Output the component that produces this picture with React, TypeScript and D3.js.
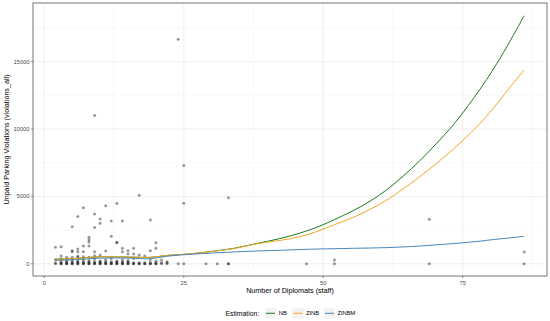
import React from "react";
import * as d3 from "d3";

// ---- data ----
const curveX = [2, 5, 10, 15, 19, 22, 26, 30, 34, 38, 42, 46, 49.4, 52, 55.4, 58.4, 61.4, 64.3, 67.3, 70, 73.3, 76, 78.1, 80.5, 82.9, 86];
const nbValues = [350, 380, 520, 500, 480, 620, 730, 920, 1150, 1500, 1850, 2300, 2800, 3280, 3950, 4650, 5500, 6500, 7650, 8800, 10300, 11750, 12950, 14450, 16100, 18400];
const zinbValues = [340, 370, 520, 500, 480, 620, 730, 910, 1130, 1480, 1720, 2030, 2480, 2900, 3450, 4050, 4730, 5550, 6460, 7350, 8500, 9550, 10420, 11550, 12800, 14380];
const zinbmValues = [250, 290, 420, 420, 380, 560, 700, 800, 880, 950, 1000, 1060, 1100, 1120, 1150, 1170, 1200, 1250, 1320, 1400, 1500, 1600, 1680, 1800, 1900, 2040];

const pointX = [
  2, 3, 4, 5, 6, 7, 8, 9, 10, 11, 12, 13, 14, 15, 16, 17, 18, 19, 20, 21, 22, 24, 25, 29, 31, 33, 33, 47, 52, 69, 86,
  2, 3, 4, 5, 6, 7, 8, 9, 10, 11, 12, 13, 14, 15, 16, 17, 18, 19, 20, 21, 22,
  3, 4, 5, 6, 7, 8, 9, 10, 11, 12, 13, 14, 15, 16, 17, 18, 19, 20,
  3, 4, 5, 6, 7, 8, 9, 10, 11, 12, 13, 14, 15,
  2, 3, 3, 4, 4, 5, 5, 6, 6, 6, 7, 7, 8, 8, 9, 9, 10, 10, 11, 12, 13, 14, 15, 16, 17, 18, 19, 20, 21, 22, 52,
  2, 3, 5, 5, 6, 6, 7, 7, 8, 9, 11, 13, 13, 14, 14, 15, 15, 16, 16, 19, 20, 20, 86, 8, 8, 8, 12, 5, 9, 10, 10, 12, 14, 19, 69, 6, 9, 7, 11, 13, 25, 33, 17, 25, 9, 24,
];
const pointY = [
  0, 0, 0, 0, 0, 0, 0, 0, 0, 0, 0, 0, 0, 0, 0, 0, 0, 0, 0, 0, 0, 0, 0, 0, 0, 0, 0, 0, 0, 0, 0,
  80, 80, 80, 80, 80, 80, 80, 80, 80, 80, 80, 80, 80, 80, 80, 80, 80, 80, 80, 80, 80,
  0, 0, 0, 0, 0, 0, 0, 0, 0, 0, 0, 0, 0, 0, 0, 0, 0, 0,
  150, 150, 150, 150, 150, 150, 150, 150, 150, 150, 150, 150, 150,
  300, 350, 580, 480, 250, 480, 300, 480, 580, 200, 530, 300, 480, 250, 600, 350, 650, 200, 300, 400, 200, 300, 250, 400, 650, 580, 280, 200, 280, 150, 280,
  1220, 1270, 900, 970, 1100, 900, 1320, 900, 1320, 900, 950, 1600, 1560, 1150, 900, 970, 730, 1150, 730, 970, 1570, 1150, 875, 1620, 1780, 1970, 2050, 2750, 2700, 3000, 3330, 3180, 3180, 3250, 3300, 3500, 3700, 4150, 4300, 4500, 4500, 4900, 5080, 7300, 11000, 16650,
];

const xTicks = [0, 25, 50, 75];
const xMinor = [12.5, 37.5, 62.5, 87.5];
const yTicks = [0, 5000, 10000, 15000];
const yMinor = [2500, 7500, 12500, 17500];

const seriesNames = ["NB", "ZINB", "ZINBM"];
const seriesColors = ["#1E7B1E", "#F5A623", "#4A86B8"];

const W = 550;
const H = 321;
const L = 33, R = 547, T = 3, B = 276;

export default function App() {
  const x = d3.scaleLinear().domain([-2.03, 90.1]).range([L, R]);
  const y = d3.scaleLinear().domain([-905, 19347]).range([B, T]);
  const line = d3
    .line<[number, number]>()
    .x((d) => x(d[0]))
    .y((d) => y(d[1]))
    .curve(d3.curveCatmullRom.alpha(0.5));
  const series = [nbValues, zinbValues, zinbmValues];
  const font = "'Liberation Sans', Arial, sans-serif";

  const legendItems = [
    { key: 265, text: 278.8 },
    { key: 292.5, text: 305.9 },
    { key: 324, text: 337.4 },
  ];
  const ly = 313.3;

  return (
    <svg
      width={W}
      height={H}
      style={{ position: "absolute", left: 0, top: 0, background: "#fff" }}
      fontFamily={font}
    >
      <rect x={0} y={0} width={W} height={H} fill="#fff" />
      {xMinor.map((v) => (
        <line key={"xm" + v} x1={x(v)} x2={x(v)} y1={T} y2={B} stroke="#F2F2F2" strokeWidth={0.5} />
      ))}
      {yMinor.map((v) => (
        <line key={"ym" + v} x1={L} x2={R} y1={y(v)} y2={y(v)} stroke="#F2F2F2" strokeWidth={0.5} />
      ))}
      {xTicks.map((v) => (
        <line key={"xg" + v} x1={x(v)} x2={x(v)} y1={T} y2={B} stroke="#EBEBEB" strokeWidth={0.8} />
      ))}
      {yTicks.map((v) => (
        <line key={"yg" + v} x1={L} x2={R} y1={y(v)} y2={y(v)} stroke="#EBEBEB" strokeWidth={0.8} />
      ))}
      {pointX.map((px, i) => (
        <circle key={"p" + i} cx={x(px)} cy={y(pointY[i])} r={1.5} fill="#000" fillOpacity={0.4} />
      ))}
      {series.map((vals, si) => (
        <path
          key={"s" + si}
          d={line(curveX.map((cx, i) => [cx, vals[i]] as [number, number])) || ""}
          fill="none"
          stroke={seriesColors[si]}
          strokeWidth={1}
        />
      ))}
      <rect x={L} y={T} width={R - L} height={B - T} fill="none" stroke="#666" strokeWidth={0.9} />
      {xTicks.map((v) => (
        <g key={"xt" + v}>
          <line x1={x(v)} x2={x(v)} y1={B} y2={B + 2} stroke="#555" strokeWidth={0.7} />
          <text x={x(v)} y={B + 8.8} fontSize={5.8} fill="#4D4D4D" textAnchor="middle">
            {v}
          </text>
        </g>
      ))}
      {yTicks.map((v) => (
        <g key={"yt" + v}>
          <line x1={L - 2} x2={L} y1={y(v)} y2={y(v)} stroke="#555" strokeWidth={0.7} />
          <text x={L - 3.5} y={y(v) + 2} fontSize={5.8} fill="#4D4D4D" textAnchor="end">
            {v}
          </text>
        </g>
      ))}
      <text x={(L + R) / 2} y={293} fontSize={7.2} textAnchor="middle" fill="#000">
        Number of Diplomats (staff)
      </text>
      <text
        transform={`translate(9, ${(T + B) / 2}) rotate(-90)`}
        fontSize={7.2}
        textAnchor="middle"
        fill="#000"
      >
        Unpaid Parking Violations (violations_all)
      </text>
      <text x={225.5} y={ly + 2.4} fontSize={6.8} fill="#000">
        Estimation:
      </text>
      {seriesNames.map((n, i) => (
        <g key={"lg" + n}>
          <rect x={legendItems[i].key} y={ly - 5.5} width={11} height={11} fill="#F2F2F2" />
          <line
            x1={legendItems[i].key + 1}
            x2={legendItems[i].key + 10}
            y1={ly}
            y2={ly}
            stroke={seriesColors[i]}
            strokeWidth={1}
          />
          <text x={legendItems[i].text} y={ly + 2} fontSize={5.8} fill="#000">
            {n}
          </text>
        </g>
      ))}
    </svg>
  );
}
